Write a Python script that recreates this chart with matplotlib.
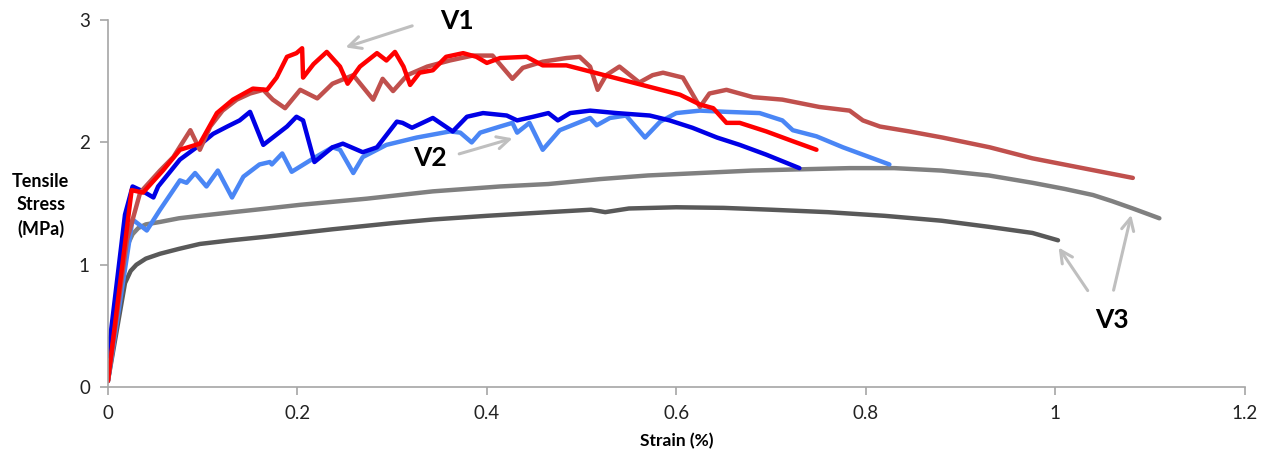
import numpy as np
import matplotlib.pyplot as plt

plt.rcParams['font.family'] = ['Lato', 'DejaVu Sans']

#-Data------------------------------------------------------------------------#

# V1, specimen a (red)
v1a_x = [0.0, 0.025, 0.037, 0.058, 0.076, 0.097, 0.115, 0.132, 0.153, 0.168, 0.178, 0.189,
         0.199, 0.205, 0.206, 0.217, 0.231, 0.245, 0.253, 0.266, 0.284, 0.294, 0.303, 0.312,
         0.319, 0.329, 0.343, 0.357, 0.375, 0.389, 0.400, 0.414, 0.442, 0.459, 0.484, 0.519,
         0.554, 0.579, 0.604, 0.625, 0.639, 0.653, 0.667, 0.695, 0.723, 0.748]
v1a_y = [0.05, 1.61, 1.59, 1.77, 1.94, 1.99, 2.24, 2.35, 2.44, 2.43, 2.53, 2.70,
         2.73, 2.77, 2.53, 2.64, 2.74, 2.62, 2.48, 2.62, 2.73, 2.67, 2.74, 2.62,
         2.47, 2.57, 2.59, 2.70, 2.73, 2.70, 2.65, 2.69, 2.70, 2.63, 2.63, 2.56,
         2.49, 2.44, 2.39, 2.31, 2.28, 2.16, 2.16, 2.09, 2.01, 1.94]

# V1, specimen b (brownish red)
v1b_x = [0.0, 0.020, 0.034, 0.055, 0.069, 0.087, 0.097, 0.108, 0.121, 0.136, 0.150, 0.164,
         0.174, 0.187, 0.203, 0.221, 0.237, 0.259, 0.280, 0.290, 0.301, 0.316, 0.337, 0.361,
         0.385, 0.406, 0.427, 0.438, 0.459, 0.484, 0.498, 0.509, 0.517, 0.526, 0.540, 0.561,
         0.575, 0.586, 0.607, 0.625, 0.635, 0.653, 0.681, 0.712, 0.751, 0.783, 0.797, 0.815,
         0.846, 0.881, 0.931, 0.976, 1.029, 1.082]
v1b_y = [0.05, 1.20, 1.59, 1.77, 1.88, 2.10, 1.94, 2.13, 2.26, 2.35, 2.40, 2.43,
         2.35, 2.28, 2.43, 2.36, 2.48, 2.55, 2.35, 2.52, 2.42, 2.55, 2.62, 2.67,
         2.71, 2.71, 2.52, 2.61, 2.66, 2.69, 2.70, 2.62, 2.43, 2.55, 2.62, 2.49,
         2.55, 2.57, 2.53, 2.29, 2.40, 2.43, 2.37, 2.35, 2.29, 2.26, 2.18, 2.13,
         2.09, 2.04, 1.96, 1.87, 1.79, 1.71]

# V2, specimen a (blue)
v2a_x = [0.0, 0.018, 0.026, 0.037, 0.048, 0.053, 0.076, 0.097, 0.111, 0.126, 0.139, 0.150,
         0.164, 0.174, 0.189, 0.199, 0.206, 0.218, 0.237, 0.248, 0.269, 0.284, 0.305, 0.311,
         0.321, 0.343, 0.364, 0.379, 0.396, 0.421, 0.432, 0.449, 0.465, 0.475, 0.488, 0.509,
         0.537, 0.572, 0.593, 0.617, 0.643, 0.667, 0.695, 0.730]
v2a_y = [0.25, 1.41, 1.64, 1.60, 1.55, 1.64, 1.86, 1.98, 2.07, 2.13, 2.18, 2.25,
         1.98, 2.04, 2.13, 2.21, 2.18, 1.84, 1.96, 1.99, 1.92, 1.96, 2.17, 2.16,
         2.12, 2.20, 2.09, 2.21, 2.24, 2.22, 2.18, 2.21, 2.24, 2.18, 2.24, 2.26,
         2.24, 2.22, 2.18, 2.12, 2.04, 1.98, 1.90, 1.79]

# V2, specimen b (light blue)
v2b_x = [0.0, 0.026, 0.041, 0.055, 0.076, 0.083, 0.092, 0.104, 0.116, 0.131, 0.143, 0.160,
         0.171, 0.173, 0.184, 0.194, 0.217, 0.237, 0.245, 0.259, 0.269, 0.294, 0.326, 0.361,
         0.372, 0.384, 0.393, 0.414, 0.427, 0.432, 0.445, 0.459, 0.477, 0.509, 0.516, 0.530,
         0.547, 0.567, 0.583, 0.600, 0.625, 0.653, 0.688, 0.712, 0.723, 0.748, 0.776, 0.797,
         0.825]
v2b_y = [0.05, 1.37, 1.28, 1.45, 1.69, 1.67, 1.75, 1.64, 1.77, 1.55, 1.72, 1.82,
         1.84, 1.82, 1.91, 1.76, 1.87, 1.96, 1.94, 1.75, 1.88, 1.98, 2.04, 2.09,
         2.08, 2.00, 2.08, 2.13, 2.16, 2.08, 2.16, 1.94, 2.10, 2.20, 2.14, 2.20,
         2.22, 2.04, 2.17, 2.24, 2.26, 2.25, 2.24, 2.18, 2.10, 2.05, 1.96, 1.90,
         1.82]

# V3, specimen a (grey)
v3a_x = [0.0, 0.020, 0.026, 0.032, 0.040, 0.055, 0.075, 0.097, 0.132, 0.168, 0.203, 0.273,
         0.343, 0.414, 0.465, 0.519, 0.570, 0.625, 0.680, 0.730, 0.783, 0.830, 0.880, 0.930,
         0.976, 1.010, 1.040, 1.060, 1.082, 1.110]
v3a_y = [0.05, 1.15, 1.25, 1.30, 1.33, 1.35, 1.38, 1.40, 1.43, 1.46, 1.49, 1.54,
         1.60, 1.64, 1.66, 1.70, 1.73, 1.75, 1.77, 1.78, 1.79, 1.79, 1.77, 1.73,
         1.67, 1.62, 1.57, 1.52, 1.46, 1.38]

# V3, specimen b (dark grey)
v3b_x = [0.0, 0.018, 0.024, 0.030, 0.040, 0.055, 0.075, 0.097, 0.130, 0.168, 0.237, 0.300,
         0.343, 0.400, 0.465, 0.510, 0.525, 0.550, 0.600, 0.650, 0.700, 0.760, 0.820, 0.880,
         0.930, 0.976, 1.003]
v3b_y = [0.05, 0.85, 0.95, 1.00, 1.05, 1.09, 1.13, 1.17, 1.20, 1.23, 1.29, 1.34,
         1.37, 1.40, 1.43, 1.45, 1.43, 1.46, 1.47, 1.465, 1.45, 1.43, 1.40, 1.36,
         1.31, 1.26, 1.20]

x_ticks = [0, 0.2, 0.4, 0.6, 0.8, 1, 1.2]
x_tick_labels = ["0", "0.2", "0.4", "0.6", "0.8", "1", "1.2"]
y_ticks = [0, 1, 2, 3]

#-Plotting--------------------------------------------------------------------#

fig = plt.figure(figsize=(12.7, 4.57), dpi=100)
ax = fig.add_axes([0.085, 0.153, 0.895, 0.803])

lw = 3.2
ax.plot(v3b_x, v3b_y, color="#595959", lw=lw, solid_capstyle="round")
ax.plot(v3a_x, v3a_y, color="#808080", lw=lw, solid_capstyle="round")
ax.plot(v2b_x, v2b_y, color="#4A86F5", lw=lw, solid_capstyle="round")
ax.plot(v2a_x, v2a_y, color="#0000E6", lw=lw, solid_capstyle="round")
ax.plot(v1b_x, v1b_y, color="#C0504D", lw=lw, solid_capstyle="round")
ax.plot(v1a_x, v1a_y, color="#FF0000", lw=lw, solid_capstyle="round")

ax.set_xlim(0, 1.2)
ax.set_ylim(0, 3)
ax.set_xticks(x_ticks)
ax.set_xticklabels(x_tick_labels)
ax.set_yticks(y_ticks)

for side in ["top", "right"]:
    ax.spines[side].set_visible(False)
for side in ["left", "bottom"]:
    ax.spines[side].set_color("#A6A6A6")
    ax.spines[side].set_linewidth(1.2)
ax.tick_params(direction="out", length=6, width=1.2, color="#A6A6A6",
               labelsize=13.5, labelcolor="#222222", pad=7)

ax.set_xlabel("Strain (%)", fontsize=12.5, fontweight="bold", labelpad=8)
fig.text(0.032, 0.55, "Tensile\nStress\n(MPa)", ha="center", va="center",
         fontsize=13, fontweight="bold", linespacing=1.45)

# Annotations
arrow = dict(arrowstyle="->", color="#BFBFBF", lw=2.2, mutation_scale=22)
ax.annotate("", xy=(0.248, 2.77), xytext=(0.324, 2.96), arrowprops=arrow)
ax.text(0.368, 2.99, "V1", fontsize=19, fontweight="bold", ha="center", va="center")
ax.annotate("", xy=(0.430, 2.04), xytext=(0.368, 1.90), arrowprops=arrow)
ax.text(0.340, 1.87, "V2", fontsize=19, fontweight="bold", ha="center", va="center")
ax.annotate("", xy=(1.002, 1.16), xytext=(1.036, 0.77), arrowprops=arrow)
ax.annotate("", xy=(1.081, 1.43), xytext=(1.061, 0.77), arrowprops=arrow)
ax.text(1.060, 0.55, "V3", fontsize=19, fontweight="bold", ha="center", va="center")

plt.savefig("out.png", dpi=100)
